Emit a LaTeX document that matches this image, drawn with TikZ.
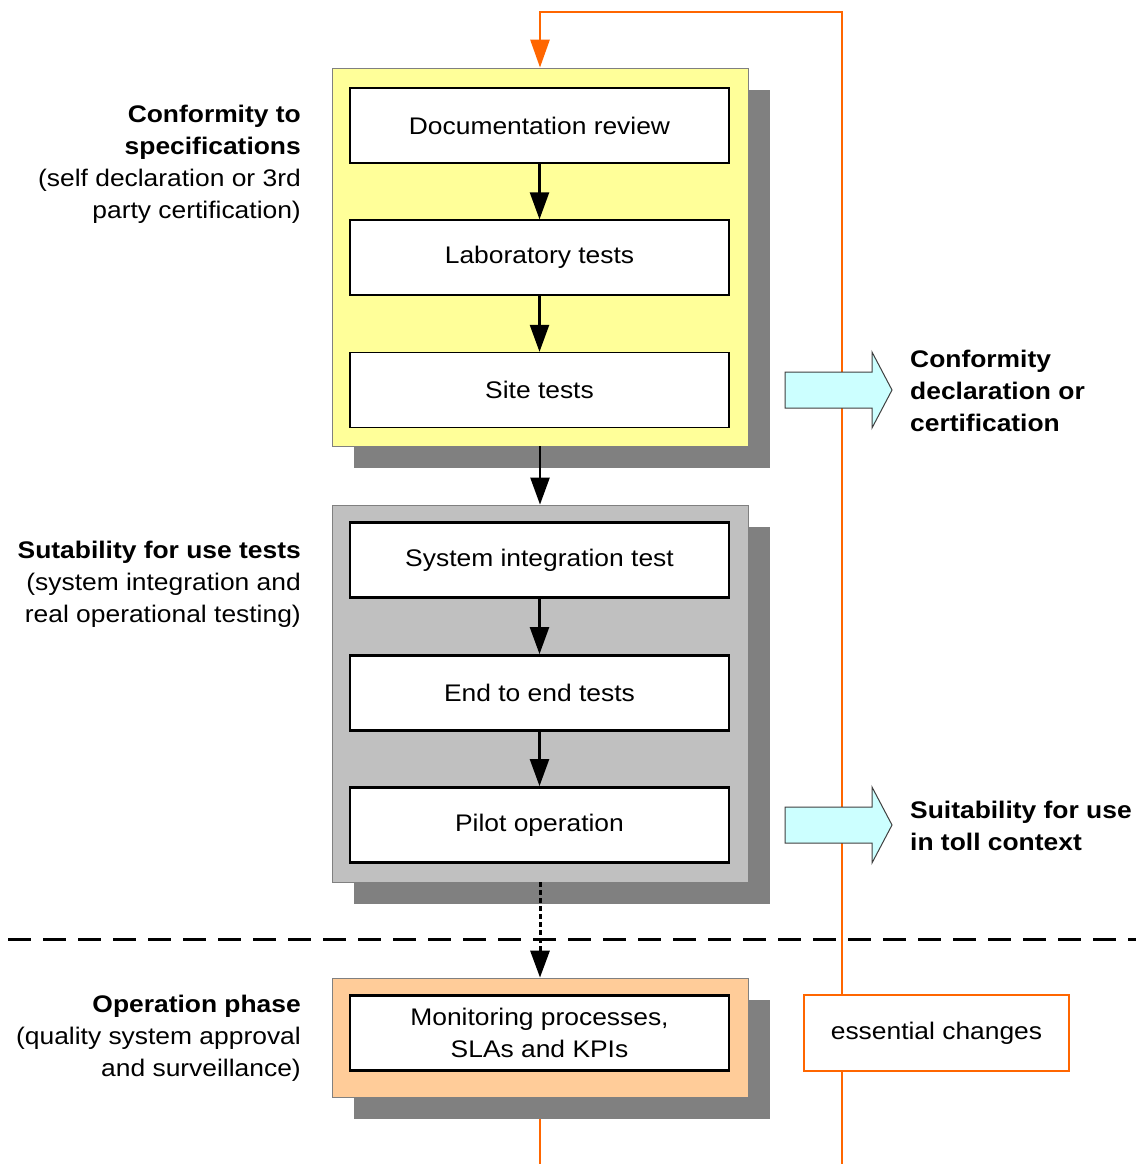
\documentclass[tikz,border=0pt]{standalone}
\usepackage{fontspec}
\setmainfont{Liberation Sans}[FakeStretch=1.1]
\usetikzlibrary{arrows.meta,shadows}
\definecolor{phaseyellow}{HTML}{FFFF99}
\definecolor{phasegray}{HTML}{C0C0C0}
\definecolor{phasepeach}{HTML}{FFCC99}
\definecolor{shadowgray}{HTML}{808080}
\definecolor{looporange}{HTML}{FF6600}
\definecolor{resultcyan}{HTML}{CCFFFF}
\newcommand{\labelfont}{\fontsize{24}{32}\selectfont}
\tikzset{
  phase/.style={draw=shadowgray, line width=0.8pt, minimum width=416pt, inner sep=0pt,
    drop shadow={shadow xshift=22pt, shadow yshift=-22pt, fill=shadowgray, opacity=1}},
  stepbox/.style={draw=black, fill=white, minimum width=379pt, minimum height=75pt,
    inner sep=0pt, align=center, font=\labelfont},
  thinbox/.style={stepbox, line width=1.3pt},
  thickbox/.style={stepbox, line width=2.8pt},
  flow/.style={line width=2.4pt, -{Triangle[width=19pt,length=27pt]}},
  dottedflow/.style={flow, line width=3pt, dash pattern=on 5pt off 3pt},
  loop/.style={draw=looporange, line width=2.8pt},
  loopend/.style={loop, -{Triangle[width=19pt,length=28pt]}},
  label/.style={inner sep=0pt, font=\labelfont},
  resultarrow/.style={draw=black!75, fill=resultcyan, line width=1pt},
  pics/bigarrow/.style={code={
    \path[resultarrow] (0,-18) -- (87,-18) -- (87,-38) -- (107,0) -- (87,38)
      -- (87,18) -- (0,18) -- cycle;}}
}
\begin{document}
\begin{tikzpicture}[x=1pt,y=-1pt]
\useasboundingbox[fill=white] (0,0) rectangle (1136,1164);

% phase frames
\node[phase, fill=phaseyellow, minimum height=378pt] (conf) at (540,257) {};
\node[phase, fill=phasegray, minimum height=377pt] (suit) at (540,693.5) {};
\node[phase, fill=phasepeach, minimum height=119pt] (oper) at (540,1037.5) {};

% steps
\node[thinbox] (doc) at (539.5,125.5) {Documentation review};
\node[thinbox] (lab) at (539.5,257.5) {Laboratory tests};
\node[thinbox] (site) at (539.5,390) {Site tests};
\node[thickbox] (sys) at (539.5,560) {System integration test};
\node[thickbox] (e2e) at (539.5,693) {End to end tests};
\node[thickbox] (pilot) at (539.5,825) {Pilot operation};
\node[thickbox] (mon) at (539.5,1033) {Monitoring processes,\\SLAs and KPIs};

\node[draw=looporange, line width=2.8pt, fill=white, minimum width=265pt, minimum height=76pt,
  inner sep=0pt, font=\labelfont] (ess) at (936.5,1033) {essential changes};

% flow between steps
\draw[flow] (doc) -- (lab);
\draw[flow] (lab) -- (site);
\draw[flow] (conf) -- (suit);
\draw[flow] (sys) -- (e2e);
\draw[flow] (e2e) -- (pilot);
\draw[dottedflow] (suit) -- (oper);

% boundary of the operation phase
\draw[line width=3pt, dash pattern=on 23pt off 12pt] (8,939) -- (1136,939);

% feedback loop for essential changes
\coordinate (topR) at (842,12);
\coordinate (topL) at (540,12);
\coordinate (botR) at (842,1164);
\coordinate (botL) at (540,1164);
\draw[loopend] (ess.north -| topR) -- (topR) -- (topL) -- (conf.north);
\draw[loop] (ess.south -| topR) -- (botR);
% continues below the shadow of the operation frame
\draw[loop] ([yshift=-22pt]oper.south) -- (botL);

% outcomes
\pic at (785,390) {bigarrow};
\pic at (785,825) {bigarrow};

% phase descriptions (anchored at the baseline of the last line)
\node[label, anchor=base east, align=right] (lconf) at (301,218)
  {\textbf{Conformity to}\\\textbf{specifications}\\(self declaration or 3rd\\party certification)};
\node[label, anchor=base east, align=right] (lsuit) at (301,622)
  {\textbf{Sutability for use tests}\\(system integration and\\real operational testing)};
\node[label, anchor=base east, align=right] (loper) at (301,1076)
  {\textbf{Operation phase}\\(quality system approval\\and surveillance)};
\node[label, anchor=base west, align=left, font=\labelfont\bfseries] (rconf) at (910,431)
  {Conformity\\declaration or\\certification};
\node[label, anchor=base west, align=left, font=\labelfont\bfseries] (rsuit) at (910,850)
  {Suitability for use\\in toll context};
\end{tikzpicture}
\end{document}
